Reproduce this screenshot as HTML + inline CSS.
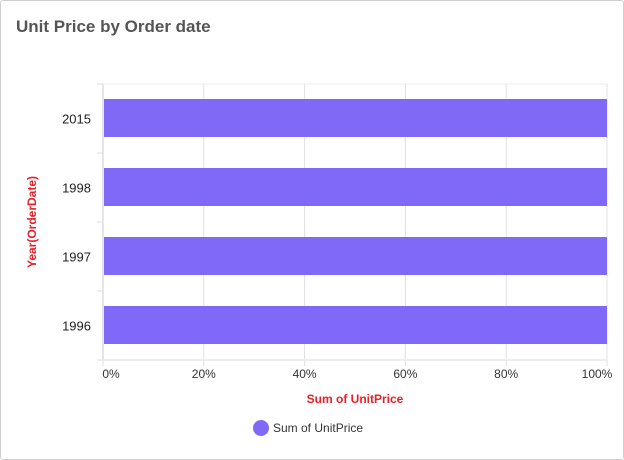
<!DOCTYPE html>
<html><head><meta charset="utf-8"><style>
body{margin:0;background:#fff;font-family:"Liberation Sans",sans-serif}
#card{position:absolute;left:0;top:0;width:622px;height:458px;border:1px solid #cfcfcf;border-radius:3px;background:#fff}
#title{position:absolute;left:15px;top:16px;font-size:17px;font-weight:bold;color:#555}
</style></head><body>
<div id="card">
<div id="title">Unit Price by Order date</div>
<svg id="chart" width="624" height="460" style="position:absolute;left:-1px;top:-1px"></svg>
</div>
<script>
const categories=["2015","1998","1997","1996"];
const values=[100,100,100,100];
const xTicks=[0,20,40,60,80,100];
const xTickLabels=["0%","20%","40%","60%","80%","100%"];
const NS="http://www.w3.org/2000/svg";
const svg=document.getElementById("chart");
const L=103,R=607,T=84,B=360;
const xs=v=>L+(R-L)*v/100;
const band=(B-T)/categories.length;
function mk(t,a,txt){const e=document.createElementNS(NS,t);for(const k in a)e.setAttribute(k,a[k]);if(txt!=null)e.textContent=txt;svg.appendChild(e);return e;}
xTicks.forEach((v,i)=>{
 const g=mk("line",{x1:xs(v),x2:xs(v),y1:T,y2:B+6,stroke:"#e0e0e0","stroke-width":1});
 
 
 const t=mk("text",{x:xs(v)+(i==0?8:i==xTicks.length-1?-10:0),y:B+18,"text-anchor":"middle","font-size":12,fill:"#333"},xTickLabels[i]);
 
 
});
const plotTop=mk("line",{x1:L,x2:R,y1:T,y2:T,stroke:"#eee"});


const bot=mk("line",{x1:L,x2:R,y1:B,y2:B,stroke:"#eee","stroke-width":2});


for(let i=0;i<=categories.length;i++){
 const tk=mk("line",{x1:97,x2:L,y1:T+i*band,y2:T+i*band,stroke:"#ddd"});
 
 
}
categories.forEach((c,i)=>{
 const y0=T+i*band;
 const r=mk("rect",{x:L,y:y0+15,width:xs(values[i])-L,height:band-31,fill:"#8169f8"});
 
 
 const t=mk("text",{x:91,y:y0+band/2+5,"text-anchor":"end","font-size":13,fill:"#222"},c);
 
 
});
const ya=mk("line",{x1:L,x2:L,y1:T,y2:B,stroke:"#e6e6e6","stroke-width":2});


const yt=mk("text",{x:0,y:0,transform:"translate(36,222) rotate(-90)","text-anchor":"middle","font-size":12,"font-weight":"bold",fill:"#e8202a"},"Year(OrderDate)");


const xt=mk("text",{x:355,y:403,"text-anchor":"middle","font-size":12,"font-weight":"bold",fill:"#e8202a"},"Sum of UnitPrice");


const lc=mk("circle",{cx:261,cy:428,r:8,fill:"#8169f8"});


const lt=mk("text",{x:273,y:432,"font-size":12,fill:"#333"},"Sum of UnitPrice");


</script>
</body></html>
